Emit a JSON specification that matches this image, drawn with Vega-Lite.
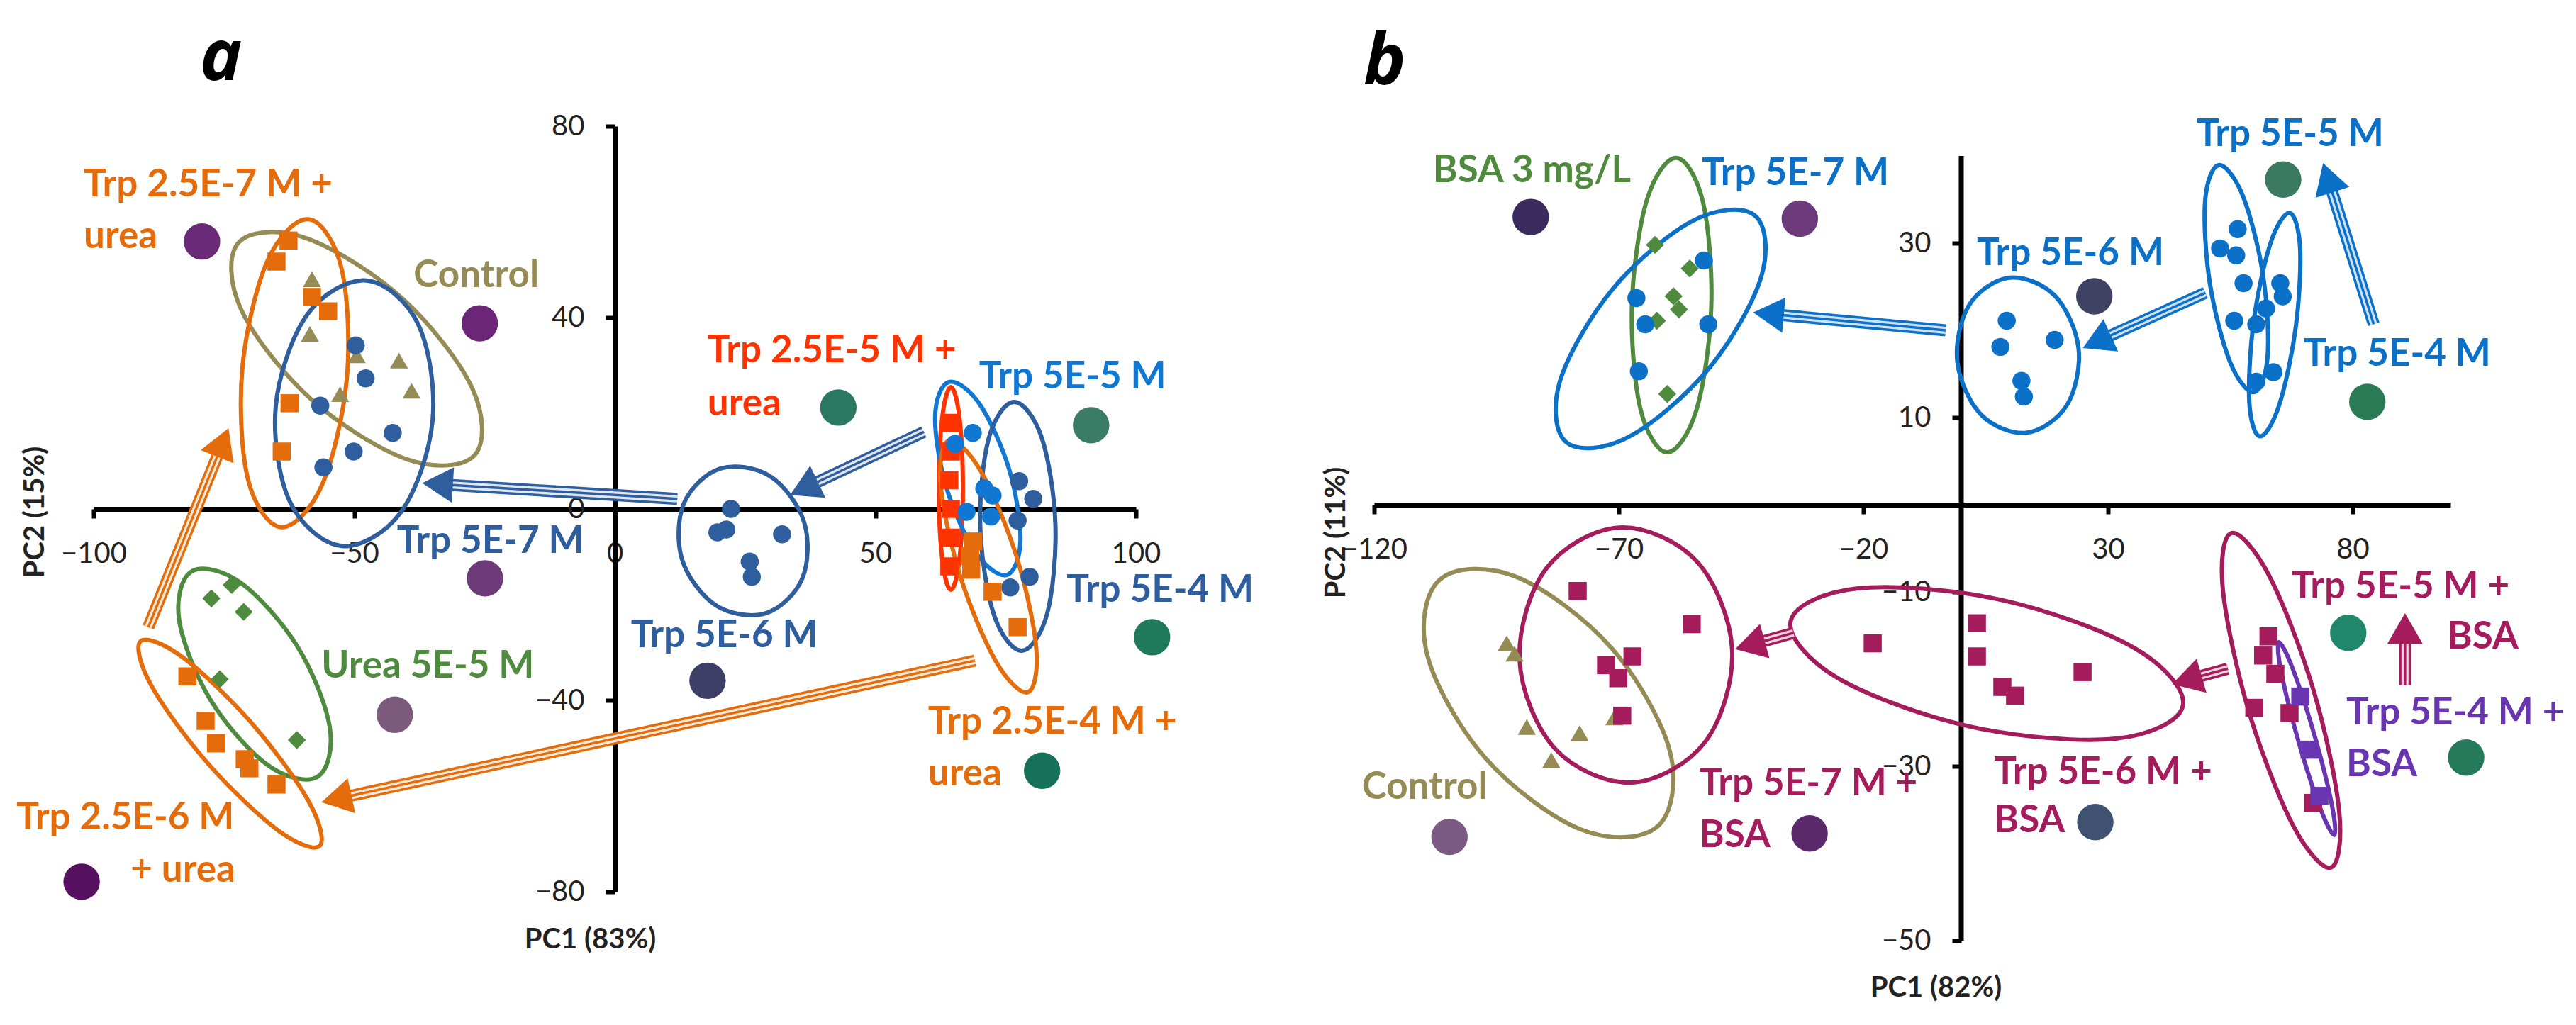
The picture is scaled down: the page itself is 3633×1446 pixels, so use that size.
{
"$schema": "https://vega.github.io/schema/vega-lite/v6.json",
"background": "white",
"padding": {"left": 23, "top": 33, "right": 5, "bottom": 5},
"bounds": "flush",
"spacing": 336,
"resolve": {"scale": {"color": "independent", "shape": "independent", "angle": "independent"}},
"config": {
  "view": {"stroke": null},
  "axis": {"grid": false, "domainColor": "#000", "domainWidth": 7, "tickColor": "#000", "tickWidth": 6, "tickSize": 13, "labelFont": "Lato", "labelFontSize": 40, "labelColor": "#222", "labelPadding": 30, "labelFlush": false, "labelOverlap": false, "titleFont": "Lato", "titleFontSize": 40, "titleFontWeight": "bold", "titleColor": "#222", "titleAlign": "center", "titleBaseline": "middle"},
  "title": {"font": "Open Sans", "fontSize": 100, "fontStyle": "italic", "fontWeight": "bold", "color": "#000", "anchor": "start", "baseline": "alphabetic", "frame": "group"}
},
"datasets": {
  "a_ell": [
    {"e":"a1","g":"ctrl","i":0,"x":-26.88,"y":11.27},{"e":"a1","g":"ctrl","i":1,"x":-39.68,"y":10.31},{"e":"a1","g":"ctrl","i":2,"x":-58.25,"y":22.92},{"e":"a1","g":"ctrl","i":3,"x":-71.70,"y":41.72},{"e":"a1","g":"ctrl","i":4,"x":-72.16,"y":55.69},{"e":"a1","g":"ctrl","i":5,"x":-59.36,"y":56.65},{"e":"a1","g":"ctrl","i":6,"x":-40.79,"y":44.04},{"e":"a1","g":"ctrl","i":7,"x":-27.34,"y":25.24},
    {"e":"a2","g":"t257u","i":0,"x":-64.08,"y":-3.80},{"e":"a2","g":"t257u","i":1,"x":-70.40,"y":6.31},{"e":"a2","g":"t257u","i":2,"x":-71.46,"y":29.35},{"e":"a2","g":"t257u","i":3,"x":-66.65,"y":51.81},{"e":"a2","g":"t257u","i":4,"x":-58.78,"y":60.54},{"e":"a2","g":"t257u","i":5,"x":-52.46,"y":50.43},{"e":"a2","g":"t257u","i":6,"x":-51.40,"y":27.39},{"e":"a2","g":"t257u","i":7,"x":-56.21,"y":4.93},
    {"e":"a3","g":"t57","i":0,"x":-52.38,"y":-7.73},{"e":"a3","g":"t57","i":1,"x":-62.32,"y":1.47},{"e":"a3","g":"t57","i":2,"x":-65.04,"y":21.53},{"e":"a3","g":"t57","i":3,"x":-58.95,"y":40.69},{"e":"a3","g":"t57","i":4,"x":-47.62,"y":47.73},{"e":"a3","g":"t57","i":5,"x":-37.68,"y":38.53},{"e":"a3","g":"t57","i":6,"x":-34.96,"y":18.47},{"e":"a3","g":"t57","i":7,"x":-41.05,"y":-0.69},
    {"e":"a4","g":"urea","i":0,"x":-57.02,"y":-55.97},{"e":"a4","g":"urea","i":1,"x":-66.46,"y":-53.63},{"e":"a4","g":"urea","i":2,"x":-77.46,"y":-40.10},{"e":"a4","g":"urea","i":3,"x":-83.57,"y":-23.30},{"e":"a4","g":"urea","i":4,"x":-81.22,"y":-13.07},{"e":"a4","g":"urea","i":5,"x":-71.78,"y":-15.41},{"e":"a4","g":"urea","i":6,"x":-60.78,"y":-28.94},{"e":"a4","g":"urea","i":7,"x":-54.67,"y":-45.74},
    {"e":"a5","g":"t256u","i":0,"x":-56.65,"y":-70.46},{"e":"a5","g":"t256u","i":1,"x":-64.72,"y":-67.08},{"e":"a5","g":"t256u","i":2,"x":-78.11,"y":-53.13},{"e":"a5","g":"t256u","i":3,"x":-88.98,"y":-36.79},{"e":"a5","g":"t256u","i":4,"x":-90.97,"y":-27.62},{"e":"a5","g":"t256u","i":5,"x":-82.90,"y":-31.00},{"e":"a5","g":"t256u","i":6,"x":-69.51,"y":-44.95},{"e":"a5","g":"t256u","i":7,"x":-58.64,"y":-61.29},
    {"e":"a6","g":"t56","i":0,"x":29.07,"y":-21.76},{"e":"a6","g":"t56","i":1,"x":19.52,"y":-20.22},{"e":"a6","g":"t56","i":2,"x":12.97,"y":-10.74},{"e":"a6","g":"t56","i":3,"x":13.25,"y":1.12},{"e":"a6","g":"t56","i":4,"x":20.19,"y":8.42},{"e":"a6","g":"t56","i":5,"x":29.74,"y":6.88},{"e":"a6","g":"t56","i":6,"x":36.29,"y":-2.60},{"e":"a6","g":"t56","i":7,"x":36.01,"y":-14.46},
    {"e":"a7","g":"t255u","i":0,"x":64.49,"y":-16.89},{"e":"a7","g":"t255u","i":1,"x":66.12,"y":-10.68},{"e":"a7","g":"t255u","i":2,"x":66.80,"y":4.30},{"e":"a7","g":"t255u","i":3,"x":66.12,"y":19.28},{"e":"a7","g":"t255u","i":4,"x":64.49,"y":25.49},{"e":"a7","g":"t255u","i":5,"x":62.86,"y":19.28},{"e":"a7","g":"t255u","i":6,"x":62.18,"y":4.30},{"e":"a7","g":"t255u","i":7,"x":62.86,"y":-10.68},
    {"e":"a8","g":"t55","i":0,"x":75.24,"y":-13.78},{"e":"a8","g":"t55","i":1,"x":69.36,"y":-9.27},{"e":"a8","g":"t55","i":2,"x":63.66,"y":4.40},{"e":"a8","g":"t55","i":3,"x":61.47,"y":19.23},{"e":"a8","g":"t55","i":4,"x":64.08,"y":26.52},{"e":"a8","g":"t55","i":5,"x":69.96,"y":22.01},{"e":"a8","g":"t55","i":6,"x":75.66,"y":8.34},{"e":"a8","g":"t55","i":7,"x":77.85,"y":-6.49},
    {"e":"a9","g":"t54","i":0,"x":78.10,"y":-29.63},{"e":"a9","g":"t54","i":1,"x":72.78,"y":-22.19},{"e":"a9","g":"t54","i":2,"x":70.14,"y":-3.88},{"e":"a9","g":"t54","i":3,"x":71.72,"y":14.58},{"e":"a9","g":"t54","i":4,"x":76.60,"y":22.37},{"e":"a9","g":"t54","i":5,"x":81.92,"y":14.93},{"e":"a9","g":"t54","i":6,"x":84.56,"y":-3.38},{"e":"a9","g":"t54","i":7,"x":82.98,"y":-21.84},
    {"e":"a10","g":"t254u","i":0,"x":79.24,"y":-38.31},{"e":"a10","g":"t254u","i":1,"x":73.17,"y":-31.91},{"e":"a10","g":"t254u","i":2,"x":66.24,"y":-13.85},{"e":"a10","g":"t254u","i":3,"x":62.51,"y":5.30},{"e":"a10","g":"t254u","i":4,"x":64.16,"y":14.31},{"e":"a10","g":"t254u","i":5,"x":70.23,"y":7.91},{"e":"a10","g":"t254u","i":6,"x":77.16,"y":-10.15},{"e":"a10","g":"t254u","i":7,"x":80.89,"y":-29.30}
  ],
  "a_pts": [
    {"g":"ctrl","x":-58.1,"y":48.0},{"g":"ctrl","x":-58.5,"y":36.6},{"g":"ctrl","x":-49.5,"y":32.1},{"g":"ctrl","x":-41.4,"y":31.0},{"g":"ctrl","x":-52.7,"y":24.0},{"g":"ctrl","x":-39.0,"y":24.7},
    {"g":"t257u","x":-62.6,"y":56.1},{"g":"t257u","x":-64.9,"y":51.7},{"g":"t257u","x":-58.1,"y":44.3},{"g":"t257u","x":-55.0,"y":41.3},{"g":"t257u","x":-62.4,"y":22.1},{"g":"t257u","x":-63.9,"y":12.0},
    {"g":"t57","x":-49.7,"y":34.2},{"g":"t57","x":-47.8,"y":27.3},{"g":"t57","x":-56.5,"y":21.6},{"g":"t57","x":-42.6,"y":15.9},{"g":"t57","x":-50.1,"y":12.0},{"g":"t57","x":-55.9,"y":8.7},
    {"g":"urea","x":-73.5,"y":-15.9},{"g":"urea","x":-77.4,"y":-18.7},{"g":"urea","x":-71.2,"y":-21.5},{"g":"urea","x":-75.8,"y":-35.6},{"g":"urea","x":-61.0,"y":-48.3},
    {"g":"t256u","x":-82.0,"y":-35.0},{"g":"t256u","x":-78.5,"y":-44.3},{"g":"t256u","x":-76.5,"y":-49.0},{"g":"t256u","x":-71.0,"y":-52.3},{"g":"t256u","x":-70.1,"y":-54.2},{"g":"t256u","x":-64.9,"y":-57.6},
    {"g":"t56","x":22.3,"y":0.0},{"g":"t56","x":19.7,"y":-4.9},{"g":"t56","x":21.4,"y":-4.3},{"g":"t56","x":32.1,"y":-5.3},{"g":"t56","x":25.9,"y":-11.0},{"g":"t56","x":26.3,"y":-14.2},
    {"g":"t255u","x":64.5,"y":18.0},{"g":"t255u","x":64.5,"y":12.0},{"g":"t255u","x":64.2,"y":6.0},{"g":"t255u","x":64.5,"y":0.0},{"g":"t255u","x":64.5,"y":-6.0},{"g":"t255u","x":64.2,"y":-12.0},
    {"g":"t55","x":65.3,"y":13.6},{"g":"t55","x":68.7,"y":15.9},{"g":"t55","x":70.9,"y":4.3},{"g":"t55","x":72.5,"y":2.8},{"g":"t55","x":67.5,"y":-0.6},{"g":"t55","x":72.2,"y":-1.6},
    {"g":"t54","x":77.6,"y":5.8},{"g":"t54","x":80.3,"y":2.1},{"g":"t54","x":77.3,"y":-2.4},{"g":"t54","x":79.6,"y":-14.2},{"g":"t54","x":75.9,"y":-16.4},
    {"g":"t254u","x":68.8,"y":-6.8},{"g":"t254u","x":68.2,"y":-9.8},{"g":"t254u","x":68.4,"y":-12.7},{"g":"t254u","x":72.5,"y":-17.3},{"g":"t254u","x":77.3,"y":-24.7}
  ],
  "a_big": [
    {"g":"ca1","x":-79.2,"y":55.9},{"g":"ca2","x":-25.9,"y":38.8},{"g":"ca3","x":42.9,"y":21.2},{"g":"ca4","x":91.4,"y":17.5},{"g":"ca5","x":-24.9,"y":-14.5},
    {"g":"ca6","x":-42.2,"y":-43.0},{"g":"ca7","x":-102.3,"y":-77.9},{"g":"ca8","x":17.8,"y":-35.9},{"g":"ca9","x":103.1,"y":-26.8},{"g":"ca10","x":82.0,"y":-54.7}
  ],
  "a_arr": [
    {"a":"A1","g":"t56","x":36.3,"y":4.3,"x2":59.3,"y2":16.1},
    {"a":"A2","g":"t57","x":-34.0,"y":5.2,"x2":12.0,"y2":2.1},
    {"a":"A3","g":"t256u","x":-53.4,"y":-60.6,"x2":69.1,"y2":-31.7},
    {"a":"A4","g":"t257u","x":-75.2,"y":13.9,"x2":-89.5,"y2":-24.7}
  ],
  "a_lbl": [
    {"g":"t257u","t":"Trp 2.5E-7 M +","x":-101.9,"y":65.3},
    {"g":"t257u","t":"urea","x":-101.9,"y":54.5},
    {"g":"ctrl","t":"Control","x":-38.6,"y":46.4},
    {"g":"t255u","t":"Trp 2.5E-5 M +","x":17.8,"y":30.7},
    {"g":"t255u","t":"urea","x":17.8,"y":19.6},
    {"g":"t55","t":"Trp 5E-5 M","x":69.9,"y":25.2},
    {"g":"t57","t":"Trp 5E-7 M","x":-41.8,"y":-9.2},
    {"g":"urea","t":"Urea 5E-5 M","x":-56.3,"y":-35.3},
    {"g":"t256u","t":"Trp 2.5E-6 M","x":-114.8,"y":-67.0},
    {"g":"t256u","t":"+ urea","x":-92.9,"y":-77.9},
    {"g":"t56","t":"Trp 5E-6 M","x":3.1,"y":-28.9},
    {"g":"t54","t":"Trp 5E-4 M","x":86.7,"y":-19.4},
    {"g":"t254u","t":"Trp 2.5E-4 M +","x":60.1,"y":-47.0},
    {"g":"t254u","t":"urea","x":60.1,"y":-57.8}
  ],
  "b_ell": [
    {"e":"b1","g":"bsa","i":0,"x":-60.14,"y":6.01},{"e":"b1","g":"bsa","i":1,"x":-65.60,"y":11.05},{"e":"b1","g":"bsa","i":2,"x":-67.31,"y":23.03},{"e":"b1","g":"bsa","i":3,"x":-64.27,"y":34.92},{"e":"b1","g":"bsa","i":4,"x":-58.26,"y":39.77},{"e":"b1","g":"bsa","i":5,"x":-52.80,"y":34.73},{"e":"b1","g":"bsa","i":6,"x":-51.09,"y":22.75},{"e":"b1","g":"bsa","i":7,"x":-54.13,"y":10.86},
    {"e":"b2","g":"b57","i":0,"x":-42.19,"y":33.17},{"e":"b2","g":"b57","i":1,"x":-40.89,"y":26.13},{"e":"b2","g":"b57","i":2,"x":-51.64,"y":15.59},{"e":"b2","g":"b57","i":3,"x":-68.13,"y":7.73},{"e":"b2","g":"b57","i":4,"x":-80.71,"y":7.15},{"e":"b2","g":"b57","i":5,"x":-82.01,"y":14.19},{"e":"b2","g":"b57","i":6,"x":-71.26,"y":24.73},{"e":"b2","g":"b57","i":7,"x":-54.77,"y":32.59},
    {"e":"b3","g":"b56","i":0,"x":13.31,"y":8.26},{"e":"b3","g":"b56","i":1,"x":4.05,"y":10.33},{"e":"b3","g":"b56","i":2,"x":-0.80,"y":16.39},{"e":"b3","g":"b56","i":3,"x":1.61,"y":22.90},{"e":"b3","g":"b56","i":4,"x":9.87,"y":26.04},{"e":"b3","g":"b56","i":5,"x":19.13,"y":23.97},{"e":"b3","g":"b56","i":6,"x":23.98,"y":17.91},{"e":"b3","g":"b56","i":7,"x":21.57,"y":11.40},
    {"e":"b4","g":"b55","i":0,"x":59.84,"y":12.91},{"e":"b4","g":"b55","i":1,"x":54.94,"y":16.38},{"e":"b4","g":"b55","i":2,"x":50.80,"y":25.45},{"e":"b4","g":"b55","i":3,"x":49.84,"y":34.80},{"e":"b4","g":"b55","i":4,"x":52.62,"y":38.95},{"e":"b4","g":"b55","i":5,"x":57.52,"y":35.48},{"e":"b4","g":"b55","i":6,"x":61.66,"y":26.41},{"e":"b4","g":"b55","i":7,"x":62.62,"y":17.06},
    {"e":"b5","g":"b54","i":0,"x":61.02,"y":7.84},{"e":"b5","g":"b54","i":1,"x":58.87,"y":11.82},{"e":"b5","g":"b54","i":2,"x":59.76,"y":20.97},{"e":"b5","g":"b54","i":3,"x":63.17,"y":29.93},{"e":"b5","g":"b54","i":4,"x":67.10,"y":33.46},{"e":"b5","g":"b54","i":5,"x":69.25,"y":29.48},{"e":"b5","g":"b54","i":6,"x":68.36,"y":20.33},{"e":"b5","g":"b54","i":7,"x":64.95,"y":11.37},
    {"e":"b6","g":"ctrl","i":0,"x":-62.12,"y":-36.92},{"e":"b6","g":"ctrl","i":1,"x":-77.71,"y":-37.26},{"e":"b6","g":"ctrl","i":2,"x":-97.19,"y":-29.10},{"e":"b6","g":"ctrl","i":3,"x":-109.15,"y":-17.23},{"e":"b6","g":"ctrl","i":4,"x":-106.58,"y":-8.60},{"e":"b6","g":"ctrl","i":5,"x":-90.99,"y":-8.26},{"e":"b6","g":"ctrl","i":6,"x":-71.51,"y":-16.42},{"e":"b6","g":"ctrl","i":7,"x":-59.55,"y":-28.29},
    {"e":"b7","g":"b57b","i":0,"x":-67.25,"y":-31.86},{"e":"b7","g":"b57b","i":1,"x":-82.99,"y":-28.01},{"e":"b7","g":"b57b","i":2,"x":-90.27,"y":-17.85},{"e":"b7","g":"b57b","i":3,"x":-84.83,"y":-7.33},{"e":"b7","g":"b57b","i":4,"x":-69.85,"y":-2.62},{"e":"b7","g":"b57b","i":5,"x":-54.11,"y":-6.47},{"e":"b7","g":"b57b","i":6,"x":-46.83,"y":-16.63},{"e":"b7","g":"b57b","i":7,"x":-52.27,"y":-27.15},
    {"e":"b8","g":"b56b","i":0,"x":45.29,"y":-23.09},{"e":"b8","g":"b56b","i":1,"x":31.55,"y":-26.83},{"e":"b8","g":"b56b","i":2,"x":2.39,"y":-25.52},{"e":"b8","g":"b56b","i":3,"x":-25.11,"y":-19.93},{"e":"b8","g":"b56b","i":4,"x":-34.85,"y":-13.33},{"e":"b8","g":"b56b","i":5,"x":-21.11,"y":-9.59},{"e":"b8","g":"b56b","i":6,"x":8.05,"y":-10.90},{"e":"b8","g":"b56b","i":7,"x":35.55,"y":-16.49},
    {"e":"b9","g":"b55b","i":0,"x":75.52,"y":-41.62},{"e":"b9","g":"b55b","i":1,"x":67.83,"y":-36.79},{"e":"b9","g":"b55b","i":2,"x":58.69,"y":-23.55},{"e":"b9","g":"b55b","i":3,"x":53.46,"y":-9.66},{"e":"b9","g":"b55b","i":4,"x":55.20,"y":-3.26},{"e":"b9","g":"b55b","i":5,"x":62.89,"y":-8.09},{"e":"b9","g":"b55b","i":6,"x":72.03,"y":-21.33},{"e":"b9","g":"b55b","i":7,"x":77.26,"y":-35.22},
    {"e":"b10","g":"b54b","i":0,"x":76.24,"y":-37.89},{"e":"b10","g":"b54b","i":1,"x":73.40,"y":-34.84},{"e":"b10","g":"b54b","i":2,"x":68.91,"y":-27.10},{"e":"b10","g":"b54b","i":3,"x":65.40,"y":-19.20},{"e":"b10","g":"b54b","i":4,"x":64.92,"y":-15.77},{"e":"b10","g":"b54b","i":5,"x":67.76,"y":-18.82},{"e":"b10","g":"b54b","i":6,"x":72.25,"y":-26.56},{"e":"b10","g":"b54b","i":7,"x":75.76,"y":-34.46}
  ],
  "b_pts": [
    {"g":"bsa","x":-62.6,"y":29.8},{"g":"bsa","x":-55.5,"y":27.1},{"g":"bsa","x":-58.8,"y":23.9},{"g":"bsa","x":-57.7,"y":22.4},{"g":"bsa","x":-62.2,"y":21.1},{"g":"bsa","x":-60.1,"y":12.7},
    {"g":"b57","x":-52.6,"y":28.0},{"g":"b57","x":-66.4,"y":23.7},{"g":"b57","x":-64.6,"y":20.7},{"g":"b57","x":-51.7,"y":20.7},{"g":"b57","x":-65.9,"y":15.3},
    {"g":"b56","x":9.3,"y":21.1},{"g":"b56","x":8.0,"y":18.1},{"g":"b56","x":19.1,"y":18.9},{"g":"b56","x":12.3,"y":14.2},{"g":"b56","x":12.8,"y":12.4},
    {"g":"b55","x":56.5,"y":31.6},{"g":"b55","x":52.9,"y":29.4},{"g":"b55","x":56.2,"y":28.6},{"g":"b55","x":57.7,"y":25.4},{"g":"b55","x":55.8,"y":21.1},
    {"g":"b54","x":65.2,"y":25.4},{"g":"b54","x":65.7,"y":23.9},{"g":"b54","x":62.3,"y":22.5},{"g":"b54","x":60.3,"y":20.7},{"g":"b54","x":60.3,"y":14.1},{"g":"b54","x":63.8,"y":15.2},
    {"g":"ctrl","x":-92.9,"y":-15.9},{"g":"ctrl","x":-91.3,"y":-17.1},{"g":"ctrl","x":-88.8,"y":-25.5},{"g":"ctrl","x":-78.0,"y":-26.2},{"g":"ctrl","x":-70.9,"y":-24.4},{"g":"ctrl","x":-83.8,"y":-29.3},
    {"g":"b57b","x":-78.4,"y":-9.9},{"g":"b57b","x":-55.1,"y":-13.7},{"g":"b57b","x":-67.2,"y":-17.4},{"g":"b57b","x":-72.6,"y":-18.4},{"g":"b57b","x":-70.1,"y":-19.9},{"g":"b57b","x":-69.3,"y":-24.2},
    {"g":"b56b","x":-18.1,"y":-15.9},{"g":"b56b","x":3.2,"y":-13.6},{"g":"b56b","x":3.2,"y":-17.4},{"g":"b56b","x":8.4,"y":-20.9},{"g":"b56b","x":11.0,"y":-21.9},{"g":"b56b","x":24.8,"y":-19.2},
    {"g":"b55b","x":62.8,"y":-15.1},{"g":"b55b","x":61.7,"y":-17.3},{"g":"b55b","x":64.2,"y":-19.4},{"g":"b55b","x":59.9,"y":-23.3},{"g":"b55b","x":67.1,"y":-23.9},{"g":"b55b","x":71.9,"y":-34.2},
    {"g":"b54b","x":69.3,"y":-22.0},{"g":"b54b","x":71.2,"y":-28.1},{"g":"b54b","x":73.2,"y":-33.4}
  ],
  "b_big": [
    {"g":"cb1","x":-88.0,"y":33.0},{"g":"cb2","x":-33.0,"y":32.8},{"g":"cb3","x":27.2,"y":23.9},{"g":"cb4","x":65.8,"y":37.3},{"g":"cb5","x":83.0,"y":11.8},
    {"g":"cb6","x":-104.6,"y":-38.1},{"g":"cb7","x":-31.0,"y":-37.7},{"g":"cb8","x":27.4,"y":-36.4},{"g":"cb9","x":79.1,"y":-14.7},{"g":"cb10","x":103.2,"y":-29.0}
  ],
  "b_arr": [
    {"a":"B1","g":"b56","x":27.7,"y":18.7,"x2":49.9,"y2":24.3},
    {"a":"B2","g":"b57","x":-39.4,"y":21.9,"x2":-3.2,"y2":20.0},
    {"a":"B3","g":"b55","x":74.9,"y":37.5,"x2":84.3,"y2":20.7},
    {"a":"B4","g":"b56b","x":46.1,"y":-20.1,"x2":54.5,"y2":-18.8},
    {"a":"B5","g":"b57b","x":-43.2,"y":-16.1,"x2":-34.3,"y2":-14.7},
    {"a":"B6","g":"b55b","x":90.7,"y":-14.2,"x2":90.7,"y2":-20.7}
  ],
  "b_lbl": [
    {"g":"bsa","t":"BSA 3 mg/L","x":-108.0,"y":37.0},
    {"g":"b57","t":"Trp 5E-7 M","x":-53.0,"y":36.7},
    {"g":"b56","t":"Trp 5E-6 M","x":3.2,"y":27.5},
    {"g":"b55","t":"Trp 5E-5 M","x":48.1,"y":41.1},
    {"g":"b54","t":"Trp 5E-4 M","x":70.0,"y":15.9},
    {"g":"ctrl","t":"Control","x":-122.5,"y":-33.7},
    {"g":"b57b","t":"Trp 5E-7 M +","x":-53.5,"y":-33.3},
    {"g":"b57b","t":"BSA","x":-53.5,"y":-39.3},
    {"g":"b56b","t":"Trp 5E-6 M +","x":6.7,"y":-32.0},
    {"g":"b56b","t":"BSA","x":6.7,"y":-37.6},
    {"g":"b55b","t":"Trp 5E-5 M +","x":67.5,"y":-10.7},
    {"g":"b55b","t":"BSA","x":99.4,"y":-16.5},
    {"g":"b54b","t":"Trp 5E-4 M +","x":78.7,"y":-25.2},
    {"g":"b54b","t":"BSA","x":78.7,"y":-31.1}
  ]
},
"hconcat": [
  {
    "width": 1470, "height": 1080,
    "title": {"text": "a", "dx": 150, "offset": 24},
    "encoding": {
      "x": {"field": "x", "type": "quantitative", "scale": {"domain": [-100, 100], "nice": false, "zero": false},
            "axis": {"title": "PC1 (83%)", "values": [-100, -50, 0, 50, 100], "offset": -540, "titleX": 700, "titleY": 607}},
      "y": {"field": "y", "type": "quantitative", "scale": {"domain": [-80, 80], "nice": false, "zero": false},
            "axis": {"title": "PC2 (15%)", "values": [-80, -40, 0, 40, 80], "offset": -735, "titleX": -818, "titleY": 544, "titleAngle": 270}},
      "color": {"field": "g", "type": "nominal", "legend": null, "scale": {
        "domain": ["ctrl","t257u","t57","urea","t256u","t56","t255u","t55","t54","t254u","ca1","ca2","ca3","ca4","ca5","ca6","ca7","ca8","ca9","ca10"],
        "range": ["#958B55","#E46C0A","#2E5E9E","#4E8B3E","#E46C0A","#2E5E9E","#FF3300","#1077D3","#2E5E9E","#E46C0A","#6A2A78","#6B2677","#2A7762","#3B7C66","#6B3A77","#7C5A7C","#55105F","#3D3F66","#1E7A5A","#17705A"]}}
    },
    "layer": [
      {"data": {"name": "a_ell"}, "mark": {"type": "line", "interpolate": "cardinal-closed", "strokeWidth": 6}, "encoding": {"detail": {"field": "e"}, "order": {"field": "i", "type": "quantitative"}}},
      {"data": {"name": "a_arr"}, "mark": {"type": "rule", "strokeWidth": 17, "strokeCap": "butt"}, "encoding": {"x2": {"field": "x2"}, "y2": {"field": "y2"}}},
      {"data": {"name": "a_arr"}, "mark": {"type": "rule", "strokeWidth": 10, "strokeCap": "butt", "opacity": 0.85}, "encoding": {"x2": {"field": "x2"}, "y2": {"field": "y2"}, "color": {"value": "white"}}},
      {"data": {"name": "a_arr"}, "mark": {"type": "rule", "strokeWidth": 3.5, "strokeCap": "butt"}, "encoding": {"x2": {"field": "x2"}, "y2": {"field": "y2"}}},
      {"data": {"name": "a_arr"}, "mark": {"type": "point", "shape": "triangle-up", "filled": true, "opacity": 1, "size": 2500},
       "encoding": {"angle": {"field": "a", "type": "ordinal", "scale": {"type": "ordinal", "domain": ["A1","A2","A3","A4"], "range": [244.5, 273.5, 257.8, 21.9]}}}},
      {"data": {"name": "a_pts"}, "mark": {"type": "point", "filled": true, "opacity": 1, "size": 650},
       "encoding": {"shape": {"field": "g", "type": "nominal", "legend": null, "scale": {"domain": ["ctrl","t257u","t57","urea","t256u","t56","t255u","t55","t54","t254u"], "range": ["triangle-up","square","circle","diamond","square","circle","square","circle","circle","square"]}}}},
      {"data": {"name": "a_big"}, "mark": {"type": "circle", "size": 2640, "opacity": 1}},
      {"data": {"name": "a_lbl"}, "mark": {"type": "text", "align": "left", "baseline": "alphabetic", "font": "Lato", "fontWeight": "bold", "fontSize": 53}, "encoding": {"text": {"field": "t"}}}
    ]
  },
  {
    "width": 1518, "height": 1149,
    "title": {"text": "b", "dx": -15, "offset": 24},
    "encoding": {
      "x": {"field": "x", "type": "quantitative", "scale": {"domain": [-120, 100], "nice": false, "zero": false},
            "axis": {"title": "PC1 (82%)", "values": [-120, -70, -20, 30, 80], "offset": -615, "titleX": 792, "titleY": 681}},
      "y": {"field": "y", "type": "quantitative", "scale": {"domain": [-50, 43.415], "nice": false, "zero": false},
            "axis": {"title": "PC2 (11%)", "values": [-50, -30, -10, 10, 30], "offset": -828, "domain": false, "titleX": -882, "titleY": 573, "titleAngle": 270}},
      "color": {"field": "g", "type": "nominal", "legend": null, "scale": {
        "domain": ["ctrl","bsa","b57","b56","b55","b54","b57b","b56b","b55b","b54b","cb1","cb2","cb3","cb4","cb5","cb6","cb7","cb8","cb9","cb10"],
        "range": ["#958B55","#4F8A3E","#0B70C8","#0B70C8","#0B70C8","#0B70C8","#A51C5C","#A51C5C","#A51C5C","#6A35B0","#3B2A5E","#6D3A7B","#3F4262","#3A7A60","#2A7A55","#7A5A82","#5A2A6B","#3F5272","#21876A","#267A5C"]}}
    },
    "layer": [
      {"data": {"values": [{"x": 0, "y": -50, "y2": 40}]}, "mark": {"type": "rule", "strokeWidth": 7, "strokeCap": "butt"}, "encoding": {"y2": {"field": "y2"}, "color": {"value": "#000"}}},
      {"data": {"name": "b_ell"}, "mark": {"type": "line", "interpolate": "cardinal-closed", "strokeWidth": 6}, "encoding": {"detail": {"field": "e"}, "order": {"field": "i", "type": "quantitative"}}},
      {"data": {"name": "b_arr"}, "mark": {"type": "rule", "strokeWidth": 17, "strokeCap": "butt"}, "encoding": {"x2": {"field": "x2"}, "y2": {"field": "y2"}}},
      {"data": {"name": "b_arr"}, "mark": {"type": "rule", "strokeWidth": 10, "strokeCap": "butt", "opacity": 0.8}, "encoding": {"x2": {"field": "x2"}, "y2": {"field": "y2"}, "color": {"value": "white"}}},
      {"data": {"name": "b_arr"}, "mark": {"type": "rule", "strokeWidth": 3.5, "strokeCap": "butt"}, "encoding": {"x2": {"field": "x2"}, "y2": {"field": "y2"}}},
      {"data": {"name": "b_arr"}, "mark": {"type": "point", "shape": "triangle-up", "filled": true, "opacity": 1, "size": 2500},
       "encoding": {"angle": {"field": "a", "type": "ordinal", "scale": {"type": "ordinal", "domain": ["B1","B2","B3","B4","B5","B6"], "range": [245.7, 275.3, 342.4, 254, 254.6, 0]}}}},
      {"data": {"name": "b_pts"}, "mark": {"type": "point", "filled": true, "opacity": 1, "size": 650},
       "encoding": {"shape": {"field": "g", "type": "nominal", "legend": null, "scale": {"domain": ["ctrl","bsa","b57","b56","b55","b54","b57b","b56b","b55b","b54b"], "range": ["triangle-up","diamond","circle","circle","circle","circle","square","square","square","square"]}}}},
      {"data": {"name": "b_big"}, "mark": {"type": "circle", "size": 2640, "opacity": 1}},
      {"data": {"name": "b_lbl"}, "mark": {"type": "text", "align": "left", "baseline": "alphabetic", "font": "Lato", "fontWeight": "bold", "fontSize": 53}, "encoding": {"text": {"field": "t"}}}
    ]
  }
]
}
